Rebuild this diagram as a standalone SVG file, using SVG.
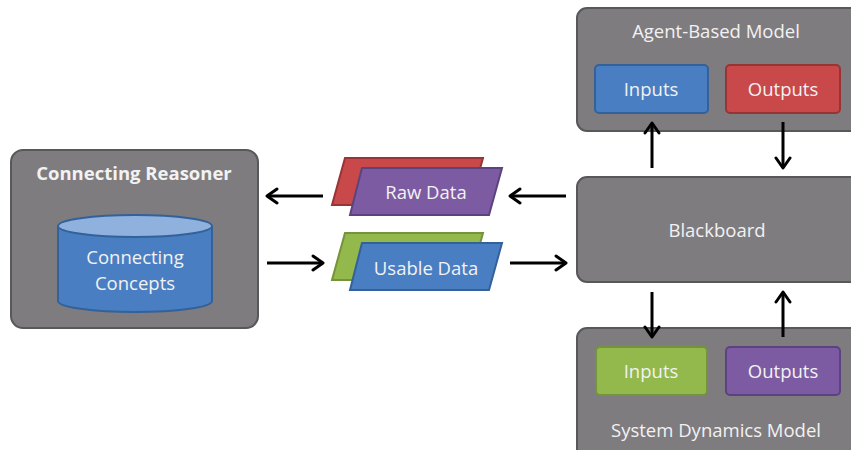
<svg xmlns="http://www.w3.org/2000/svg" width="851" height="450" viewBox="0 0 851 450">
<defs>
<style>
.box{fill:#7f7c80;stroke:#58585a;stroke-width:2}
.t{font-family:"Open Sans","Liberation Sans",sans-serif;font-size:18.5px;fill:#f2f2f2;text-anchor:middle}
.b{font-weight:bold}
.blue{fill:#4a7ec2;stroke:#33619a;stroke-width:2}
.red{fill:#c9484a;stroke:#973536;stroke-width:2}
.green{fill:#93b84b;stroke:#74933a;stroke-width:2}
.purple{fill:#7d5ba3;stroke:#5c4380;stroke-width:2}
.arr{stroke:#000;stroke-width:3;fill:none;marker-end:url(#ah)}
</style>
<marker id="ah" viewBox="-2 -2 16 18" refX="11" refY="7" markerWidth="16" markerHeight="18" orient="auto" markerUnits="userSpaceOnUse">
<path d="M1,0 L11,7 L1,14" fill="none" stroke="#000" stroke-width="3" stroke-linecap="round" stroke-linejoin="round"/>
</marker>
</defs>
<rect width="851" height="450" fill="#fff"/>

<g id="connecting-reasoner">
<rect class="box" x="11" y="150" width="247" height="178" rx="12"/>
<text class="t b" x="134" y="180" font-size="18.5">Connecting Reasoner</text>
<g id="connecting-concepts">
<path class="blue" d="M58,226 L58,301 A77,11 0 0 0 212,301 L212,226"/>
<ellipse cx="135" cy="226" rx="77" ry="11" fill="#8fb1dd" stroke="#33619a" stroke-width="2"/>
<text class="t" x="135" y="264">Connecting</text>
<text class="t" x="135" y="290">Concepts</text>
</g>
</g>

<g id="raw-data">
<path class="red" d="M345,158 L483,158 L470,205 L332,205 Z"/>
<path class="purple" d="M362,168 L502,168 L489,215 L350,215 Z"/>
<text class="t" x="426" y="199">Raw Data</text>
</g>

<g id="usable-data">
<path class="green" d="M345,233 L483,233 L470,280 L332,280 Z"/>
<path class="blue" d="M362,243 L502,243 L489,290 L350,290 Z"/>
<text class="t" x="426" y="275">Usable Data</text>
</g>

<g id="blackboard">
<rect class="box" x="577" y="177" width="284" height="105" rx="10"/>
<text class="t" x="717" y="237">Blackboard</text>
</g>

<g id="agent-based-model">
<rect class="box" x="577" y="8" width="284" height="123" rx="10"/>
<text class="t" x="716" y="38">Agent-Based Model</text>
<g id="abm-inputs">
<rect class="blue" x="595" y="65" width="113" height="48" rx="4"/>
<text class="t" x="651" y="96">Inputs</text>
</g>
<g id="abm-outputs">
<rect class="red" x="726" y="65" width="114" height="48" rx="4"/>
<text class="t" x="783" y="96">Outputs</text>
</g>
</g>

<g id="system-dynamics-model">
<rect class="box" x="577" y="328" width="284" height="135" rx="10"/>
<g id="sdm-inputs">
<rect class="green" x="596" y="347" width="111" height="48" rx="4"/>
<text class="t" x="651" y="378">Inputs</text>
</g>
<g id="sdm-outputs">
<rect class="purple" x="726" y="347" width="114" height="48" rx="4"/>
<text class="t" x="783" y="378">Outputs</text>
</g>
<text class="t" x="716" y="437">System Dynamics Model</text>
</g>

<g id="connectors">
<line class="arr" x1="323" y1="196" x2="267" y2="196"/>
<line class="arr" x1="267" y1="263" x2="323" y2="263"/>
<line class="arr" x1="566" y1="196" x2="510" y2="196"/>
<line class="arr" x1="510" y1="263" x2="566" y2="263"/>
<line class="arr" x1="652" y1="168" x2="652" y2="123"/>
<line class="arr" x1="783" y1="122" x2="783" y2="168"/>
<line class="arr" x1="652" y1="292" x2="652" y2="337"/>
<line class="arr" x1="783" y1="337" x2="783" y2="292"/>
</g>
</svg>
